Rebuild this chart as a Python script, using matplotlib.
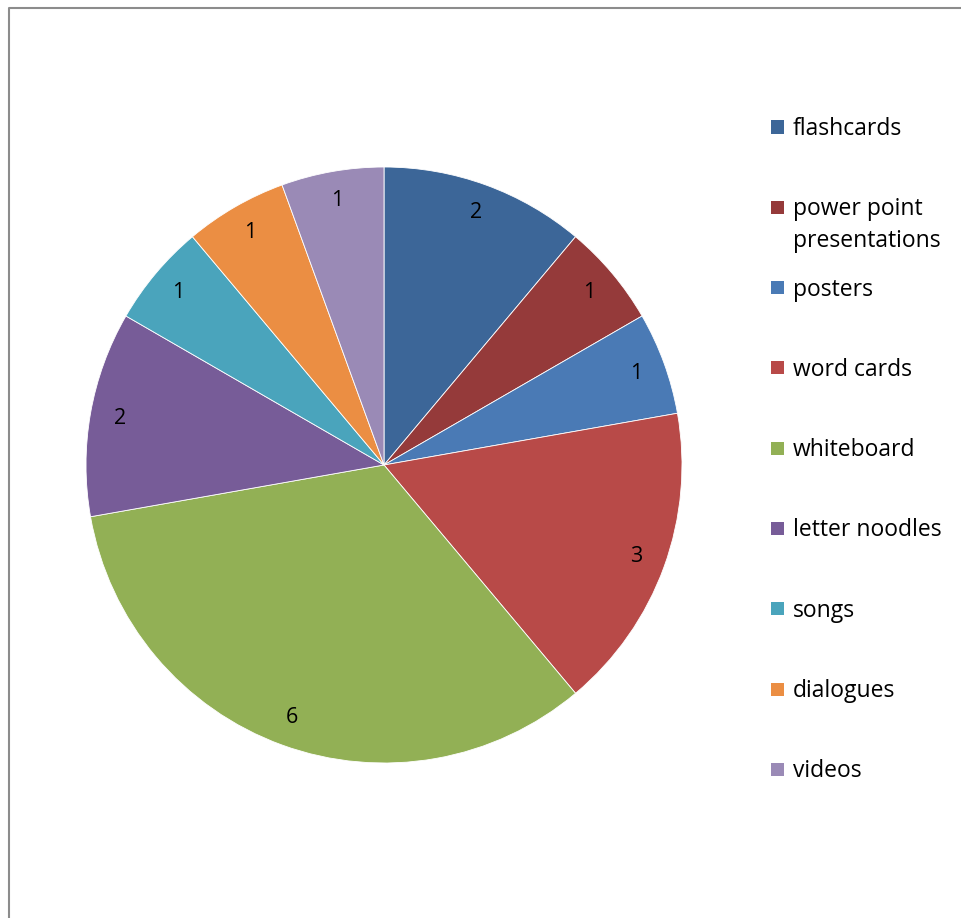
import matplotlib.pyplot as plt
from matplotlib.lines import Line2D
from matplotlib.patches import Rectangle

categories = ["flashcards", "power point\npresentations", "posters", "word cards",
              "whiteboard", "letter noodles", "songs", "dialogues", "videos"]
counts = [2, 1, 1, 3, 6, 2, 1, 1, 1]
colors = ["#3C6698", "#953A3A", "#4A7AB5", "#B84A48", "#92B055",
          "#775C98", "#4AA4BC", "#EB8E43", "#9A8AB6"]

W, H = 961, 918
plt.rcParams["font.family"] = ["Open Sans", "DejaVu Sans"]

fig = plt.figure(figsize=(W / 100, H / 100), dpi=100)

# pie centre (384, 465) px, radius 298 px
cx, cy, r = 384, 465, 298
ax = fig.add_axes([(cx - r) / W, (H - cy - r) / H, 2 * r / W, 2 * r / H])
total = sum(counts)
ax.pie(counts, colors=colors, startangle=90, counterclock=False,
       autopct=lambda p: f"{round(p * total / 100):d}", pctdistance=0.9,
       wedgeprops=dict(edgecolor="white", linewidth=0.6),
       textprops=dict(fontsize=15.5, color="black"))
ax.set_xlim(-1, 1)
ax.set_ylim(-1, 1)
ax.axis("off")

# legend drawn by hand: Excel-style fixed row spacing
row0, step, line_h = 127, 80.3, 32
for i, (name, c) in enumerate(zip(categories, colors)):
    y = row0 + i * step
    fig.add_artist(Rectangle((771 / W, 1 - (y + 6.5) / H), 13 / W, 13 / H,
                             facecolor=c, edgecolor="none",
                             transform=fig.transFigure))
    for k, line in enumerate(name.split("\n")):
        fig.text(793 / W, 1 - (y + 2 + k * line_h) / H, line, fontsize=16.5,
                 ha="left", va="center")

# chart frame (cropped on right and bottom)
fig.add_artist(Line2D([8.5 / W, 8.5 / W, 1.0], [0.0, 1 - 7.5 / H, 1 - 7.5 / H],
                      color="#8C8C8C", linewidth=1.5, transform=fig.transFigure))

fig.savefig("out.png", dpi=100)
